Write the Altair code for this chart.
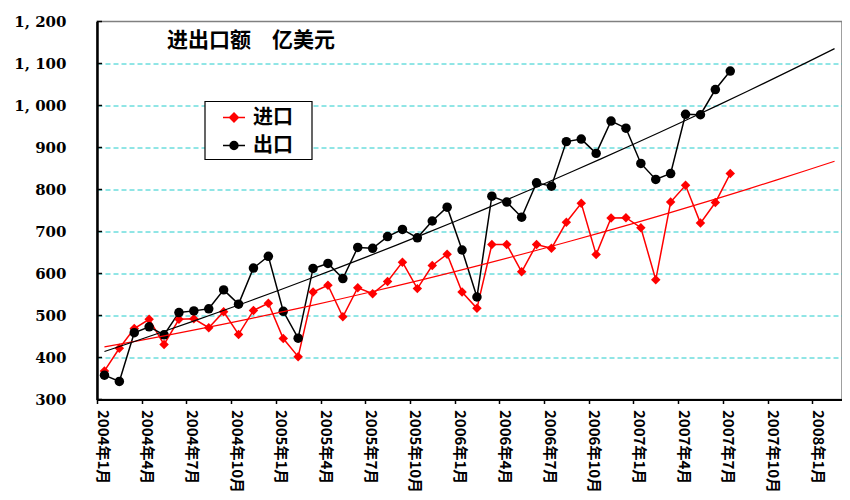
import json
import altair as alt
import pandas as pd

# ---- categories (monthly, 2004年1月 .. 2008年2月) ----
MONTHS = [f"{y}年{m}月" for y in range(2004, 2009) for m in range(1, 13)][:50]
X_TICK_LABELS = MONTHS[::3]          # 2004年1月, 2004年4月, ... 2008年1月
Y_TICKS = [300, 400, 500, 600, 700, 800, 900, 1000, 1100, 1200]

SERIES = ["进口", "出口"]
COLORS = ["#FF0000", "#000000"]
TITLE = "进出口额　亿美元"

# ---- values (亿美元), 2004年1月 .. 2007年7月 ----
IMPORTS = [368, 422, 469, 491, 431, 491, 492, 471, 509, 455,
           512, 529, 445, 402, 556, 572, 497, 566, 552, 581,
           627, 564, 619, 646, 556, 517, 669, 669, 604, 669,
           660, 722, 767, 645, 732, 733, 709, 585, 770, 810,
           720, 769, 838]
EXPORTS = [358, 343, 459, 473, 454, 507, 511, 516, 561, 527,
           613, 641, 510, 446, 612, 624, 588, 662, 660, 688,
           705, 685, 725, 758, 656, 544, 784, 770, 734, 816,
           808, 914, 920, 886, 963, 946, 862, 824, 838, 979,
           978, 1038, 1082]

rows = []
for s, vals in zip(SERIES, [IMPORTS, EXPORTS]):
    for i, v in enumerate(vals):
        rows.append({"month": MONTHS[i], "xpos": i + 0.5, "series": s, "value": v})
df = pd.DataFrame(rows)

CJK = "Noto Sans CJK SC"
W, H = 745, 378

x_scale = alt.Scale(domain=[0, len(MONTHS)], nice=False, zero=False)
y_scale = alt.Scale(domain=[Y_TICKS[0], Y_TICKS[-1]], nice=False, zero=False)
color_scale = alt.Scale(domain=SERIES, range=COLORS)

x_axis = alt.Axis(
    values=list(range(0, 49, 3)),
    labelExpr=json.dumps(X_TICK_LABELS, ensure_ascii=False) + "[datum.value / 3]",
    labelAngle=90, labelFont=CJK, labelFontSize=15, labelFontWeight="bold",
    labelColor="black", labelOffset=5, labelPadding=6, labelFlush=False,
    labelOverlap=False, ticks=True, tickSize=4, tickColor="black", tickWidth=1.5,
    domainColor="black", domainWidth=2, grid=False, title=None,
)
y_axis = alt.Axis(
    values=Y_TICKS,
    labelExpr="replace(format(datum.value, ','), ',', ', ')",
    labelFont="DejaVu Serif", labelFontSize=15, labelFontWeight="bold",
    labelColor="black", labelPadding=31, labelFlush=False, labelOverlap=False,
    ticks=False, domainColor="black", domainWidth=2.5,
    grid=True, gridColor="#22CCCC", gridDash=[5, 3], gridWidth=1,
    gridOpacity={"condition": {"test": "datum.value <= 300 || datum.value >= 1200", "value": 0}, "value": 1},
    title=None,
)

X = alt.X("xpos:Q", scale=x_scale, axis=x_axis)
Y = alt.Y("value:Q", scale=y_scale, axis=y_axis)
C = alt.Color("series:N", scale=color_scale, legend=None)

base = alt.Chart(df)

lines = base.mark_line(strokeWidth=1.5).encode(x=X, y=Y, color=C)

points = base.mark_point(filled=True, size=90, opacity=1).encode(
    x=X, y=Y, color=C,
    shape=alt.Shape("series:N", scale=alt.Scale(domain=SERIES, range=["diamond", "circle"]), legend=None),
)

trends = base.transform_regression(
    "xpos", "value", groupby=["series"], method="poly", order=2, extent=[0.5, 49.5]
).mark_line(strokeWidth=1.2).encode(x=X, y=Y, color=C)

ticks = alt.Chart(pd.DataFrame({"value": Y_TICKS})).mark_rule(color="black", strokeWidth=1.5).encode(
    y=Y, x=alt.value(0), x2=alt.value(5)
)

title = alt.Chart(pd.DataFrame({"t": [TITLE]})).mark_text(
    align="left", baseline="middle", font=CJK, fontSize=21, fontWeight="bold", color="black"
).encode(text="t:N", x=alt.value(70), y=alt.value(19))

# legend frame (white box with black border behind the legend entries)
legend_box = alt.Chart(pd.DataFrame({"k": [0]})).mark_rect(
    fill="white", stroke="black", strokeWidth=1.2
).encode(x=alt.value(108), x2=alt.value(215), y=alt.value(80), y2=alt.value(138))

RED_SYM = "M-1,0H1M0,-0.4L0.4,0L0,0.4L-0.4,0Z"
BLACK_SYM = "M-1,0H1M0.36,0A0.36,0.36,0,1,1,-0.36,0A0.36,0.36,0,1,1,0.36,0Z"

legend = alt.Legend(
    title=None, orient="none", legendX=108, legendY=80, direction="vertical",
    padding=4, rowPadding=6,
    symbolOffset=13, symbolSize=484, symbolStrokeWidth=1.5, symbolOpacity=1,
    labelOffset=7, labelFont=CJK, labelFontSize=20, labelFontWeight="bold",
    labelColor="black",
)

legend_layer = alt.Chart(pd.DataFrame({"series": SERIES})).transform_filter("false").mark_point(
    filled=True, opacity=1, strokeWidth=1.5
).encode(
    color=alt.Color("series:N", scale=color_scale, legend=legend),
    stroke=alt.Stroke("series:N", scale=color_scale, legend=legend),
    shape=alt.Shape("series:N", scale=alt.Scale(domain=SERIES, range=[RED_SYM, BLACK_SYM]), legend=legend),
)

chart = alt.layer(lines, points, trends, ticks, title, legend_box, legend_layer).resolve_scale(
    color="independent", shape="independent", stroke="independent"
).properties(
    width=W, height=H, autosize="none",
    padding={"left": 89, "top": 13.5, "right": 0, "bottom": 92.5},
    background="white",
).configure_view(stroke="#808080", strokeWidth=1.5)

chart.save("out.html", embed_options={"renderer": "svg", "actions": False})
